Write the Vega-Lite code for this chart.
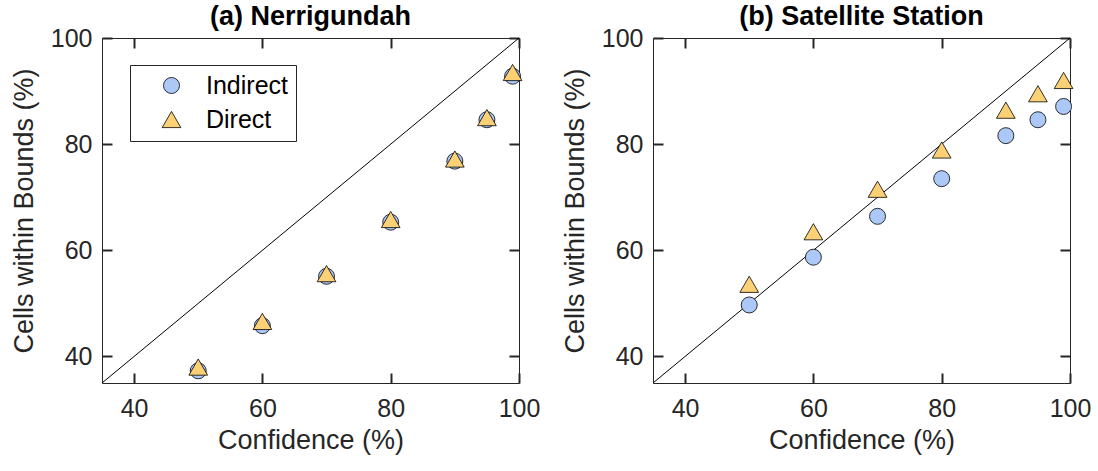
{
  "$schema": "https://vega.github.io/schema/vega-lite/v6.json",
  "padding": {"left": 9, "top": 2, "right": 10, "bottom": 5},
  "background": "white",
  "config": {
    "font": "Liberation Sans",
    "view": {"stroke": "#262626", "strokeWidth": 1},
    "axis": {
      "grid": false,
      "domain": false,
      "ticks": true,
      "tickColor": "#262626",
      "tickWidth": 2,
      "tickSize": 10,
      "offset": -10,
      "labelFlush": false,
      "labelOverlap": false,
      "labelColor": "#262626",
      "labelFont": "Liberation Sans",
      "labelFontSize": 25,
      "titleFont": "Liberation Sans",
      "titleFontSize": 27,
      "titleFontWeight": "normal",
      "titleColor": "#262626",
      "zindex": 1
    },
    "title": {"font": "Liberation Sans", "fontSize": 27, "fontWeight": "bold", "color": "black", "anchor": "middle"}
  },
  "datasets": {
    "diag": [{"x": 35, "y": 35, "x2": 100, "y2": 100}],
    "a": [
      {"conf": 50, "cells": 37.3, "method": "Indirect"},
      {"conf": 60, "cells": 45.8, "method": "Indirect"},
      {"conf": 70, "cells": 55.1, "method": "Indirect"},
      {"conf": 80, "cells": 65.3, "method": "Indirect"},
      {"conf": 90, "cells": 76.8, "method": "Indirect"},
      {"conf": 95, "cells": 84.6, "method": "Indirect"},
      {"conf": 99, "cells": 92.8, "method": "Indirect"},
      {"conf": 50, "cells": 38.0, "method": "Direct"},
      {"conf": 60, "cells": 46.6, "method": "Direct"},
      {"conf": 70, "cells": 55.6, "method": "Direct"},
      {"conf": 80, "cells": 65.8, "method": "Direct"},
      {"conf": 90, "cells": 77.2, "method": "Direct"},
      {"conf": 95, "cells": 85.0, "method": "Direct"},
      {"conf": 99, "cells": 93.5, "method": "Direct"}
    ],
    "b": [
      {"conf": 50, "cells": 49.7, "method": "Indirect"},
      {"conf": 60, "cells": 58.7, "method": "Indirect"},
      {"conf": 70, "cells": 66.4, "method": "Indirect"},
      {"conf": 80, "cells": 73.5, "method": "Indirect"},
      {"conf": 90, "cells": 81.6, "method": "Indirect"},
      {"conf": 95, "cells": 84.6, "method": "Indirect"},
      {"conf": 99, "cells": 87.1, "method": "Indirect"},
      {"conf": 50, "cells": 53.6, "method": "Direct"},
      {"conf": 60, "cells": 63.5, "method": "Direct"},
      {"conf": 70, "cells": 71.5, "method": "Direct"},
      {"conf": 80, "cells": 78.9, "method": "Direct"},
      {"conf": 90, "cells": 86.4, "method": "Direct"},
      {"conf": 95, "cells": 89.5, "method": "Direct"},
      {"conf": 99, "cells": 92.0, "method": "Direct"}
    ]
  },
  "spacing": 19,
  "resolve": {
    "scale": {"color": "independent", "shape": "independent", "size": "independent"},
    "legend": {"color": "independent", "shape": "independent", "size": "independent"}
  },
  "hconcat": [
    {
      "width": 417,
      "height": 345,
      "title": {"text": "(a) Nerrigundah", "offset": -5},
      "resolve": {"axis": {"x": "independent", "y": "independent"}},
      "layer": [
        {
          "data": {"name": "diag"},
          "mark": {"type": "rule", "color": "black", "strokeWidth": 1},
          "encoding": {
            "x": {"field": "x", "type": "quantitative", "scale": {"domain": [35, 100]}, "axis": {"orient": "top", "labels": false, "title": null, "values": [40, 60, 80, 100]}},
            "y": {"field": "y", "type": "quantitative", "scale": {"domain": [35, 100]}, "axis": {"orient": "right", "labels": false, "title": null, "values": [40, 60, 80, 100]}},
            "x2": {"field": "x2"},
            "y2": {"field": "y2"}
          }
        },
        {
          "data": {"name": "a"},
          "mark": {"type": "point", "filled": true, "opacity": 1, "stroke": "black", "strokeWidth": 0.8},
          "encoding": {
            "x": {"field": "conf", "type": "quantitative", "scale": {"domain": [35, 100]}, "axis": {"orient": "bottom", "title": "Confidence (%)", "labelPadding": 13, "titlePadding": 6, "values": [40, 60, 80, 100]}},
            "y": {"field": "cells", "type": "quantitative", "scale": {"domain": [35, 100]}, "axis": {"orient": "left", "title": "Cells within Bounds (%)", "labelPadding": 10, "titlePadding": 12, "values": [40, 60, 80, 100]}},
            "shape": {"field": "method", "type": "nominal", "scale": {"domain": ["Indirect", "Direct"], "range": ["circle", "triangle-up"]},
              "legend": {"title": null, "orient": "none", "legendX": 28, "legendY": 27, "strokeColor": "#262626", "fillColor": "white", "padding": 8, "rowPadding": 8, "symbolOffset": 21, "labelOffset": 22, "labelFontSize": 25, "labelColor": "black", "symbolStrokeColor": "black", "symbolStrokeWidth": 0.8}},
            "color": {"field": "method", "type": "nominal", "scale": {"domain": ["Indirect", "Direct"], "range": ["#abc8f7", "#fcd176"]},
              "legend": {"title": null, "orient": "none", "legendX": 28, "legendY": 27, "strokeColor": "#262626", "fillColor": "white", "padding": 8, "rowPadding": 8, "symbolOffset": 21, "labelOffset": 22, "labelFontSize": 25, "labelColor": "black", "symbolStrokeColor": "black", "symbolStrokeWidth": 0.8}},
            "size": {"field": "method", "type": "nominal", "scale": {"domain": ["Indirect", "Direct"], "range": [256, 350]},
              "legend": {"title": null, "orient": "none", "legendX": 28, "legendY": 27, "strokeColor": "#262626", "fillColor": "white", "padding": 8, "rowPadding": 8, "symbolOffset": 21, "labelOffset": 22, "labelFontSize": 25, "labelColor": "black", "symbolStrokeColor": "black", "symbolStrokeWidth": 0.8}}
          }
        }
      ]
    },
    {
      "width": 417,
      "height": 345,
      "title": {"text": "(b) Satellite Station", "offset": -5},
      "resolve": {"axis": {"x": "independent", "y": "independent"}},
      "layer": [
        {
          "data": {"name": "diag"},
          "mark": {"type": "rule", "color": "black", "strokeWidth": 1},
          "encoding": {
            "x": {"field": "x", "type": "quantitative", "scale": {"domain": [35, 100]}, "axis": {"orient": "top", "labels": false, "title": null, "values": [40, 60, 80, 100]}},
            "y": {"field": "y", "type": "quantitative", "scale": {"domain": [35, 100]}, "axis": {"orient": "right", "labels": false, "title": null, "values": [40, 60, 80, 100]}},
            "x2": {"field": "x2"},
            "y2": {"field": "y2"}
          }
        },
        {
          "data": {"name": "b"},
          "mark": {"type": "point", "filled": true, "opacity": 1, "stroke": "black", "strokeWidth": 0.8},
          "encoding": {
            "x": {"field": "conf", "type": "quantitative", "scale": {"domain": [35, 100]}, "axis": {"orient": "bottom", "title": "Confidence (%)", "labelPadding": 13, "titlePadding": 6, "values": [40, 60, 80, 100]}},
            "y": {"field": "cells", "type": "quantitative", "scale": {"domain": [35, 100]}, "axis": {"orient": "left", "title": "Cells within Bounds (%)", "labelPadding": 10, "titlePadding": 12, "values": [40, 60, 80, 100]}},
            "shape": {"field": "method", "type": "nominal", "scale": {"domain": ["Indirect", "Direct"], "range": ["circle", "triangle-up"]}, "legend": null},
            "color": {"field": "method", "type": "nominal", "scale": {"domain": ["Indirect", "Direct"], "range": ["#abc8f7", "#fcd176"]}, "legend": null},
            "size": {"field": "method", "type": "nominal", "scale": {"domain": ["Indirect", "Direct"], "range": [256, 350]}, "legend": null}
          }
        }
      ]
    }
  ]
}
